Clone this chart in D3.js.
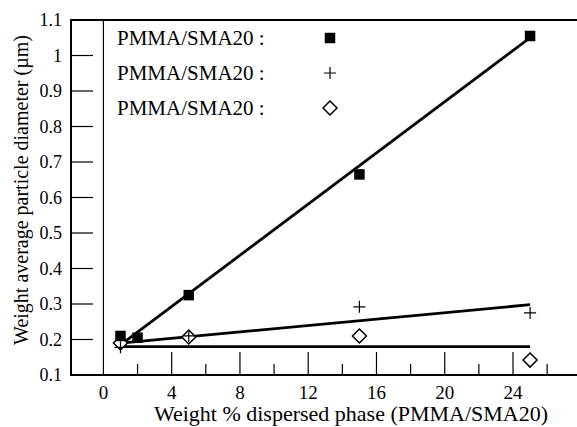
<!DOCTYPE html>
<html>
<head>
<meta charset="utf-8">
<script src="https://cdn.jsdelivr.net/npm/d3@7.9.0/dist/d3.min.js"></script>
<style>
  body { margin: 0; background: #fff; }
  text { font-family: "Liberation Serif", "Times New Roman", Times, "DejaVu Serif", serif; }
</style>
</head>
<body>
<div id="chart"></div>
<script>
// values
const squareX = [1, 2, 5, 15, 25];
const squareY = [0.21, 0.205, 0.325, 0.665, 1.055];
const plusX = [1, 5, 15, 25];
const plusY = [0.178, 0.21, 0.292, 0.275];
const diamondX = [1, 5, 15, 25];
const diamondY = [0.19, 0.207, 0.21, 0.142];

// fitted lines (end points as drawn)
const fitSquare = [[1, 0.185], [25, 1.05]];
const fitPlus = [[1, 0.19], [25, 0.298]];
const fitDiamond = [[1, 0.18], [25, 0.18]];

const legendLabels = ['PMMA/SMA20 :', 'PMMA/SMA20 :', 'PMMA/SMA20 :'];
const yTicks = [0.1, 0.2, 0.3, 0.4, 0.5, 0.6, 0.7, 0.8, 0.9, 1, 1.1];
const xMajor = [4, 8, 12, 16, 20, 24];
const xMinor = [2, 6, 10, 14, 18, 22, 26];
const xLabels = [0, 4, 8, 12, 16, 20, 24];

const W = 577, H = 427;
const L = 71, R = 577, T = 20, B = 375;
const FONT = '"Liberation Serif", "Times New Roman", Times, "DejaVu Serif", serif';

const x = d3.scaleLinear().domain([-1.9, 27.75]).range([L, R]);
const y = d3.scaleLinear().domain([0.1, 1.1]).range([B, T]);

const svg = d3.select('#chart').append('svg').attr('width', W).attr('height', H)
  .attr('font-family', FONT);

// frame: top, left, bottom
svg.append('path')
  .attr('d', `M${R},${T}H${L}V${B}H${R}`)
  .attr('fill', 'none').attr('stroke', '#000').attr('stroke-width', 2);

// vertical line at x = 0
svg.append('line')
  .attr('x1', x(0)).attr('x2', x(0)).attr('y1', T).attr('y2', B)
  .attr('stroke', '#000').attr('stroke-width', 1.2);

// y ticks (inward) and labels
svg.append('g').selectAll('line').data(yTicks.filter(v => v > 0.1 && v < 1.1)).join('line')
  .attr('x1', L).attr('x2', L + 22).attr('y1', d => y(d)).attr('y2', d => y(d))
  .attr('stroke', '#000').attr('stroke-width', 1.2);
svg.append('g').selectAll('text').data(yTicks).join('text')
  .attr('x', 62).attr('y', d => y(d) + 6)
  .attr('text-anchor', 'end').attr('font-size', 18)
  .text(d => d);

// x ticks (inward)
svg.append('g').selectAll('line').data(xMajor).join('line')
  .attr('x1', d => x(d)).attr('x2', d => x(d)).attr('y1', B).attr('y2', B - 23)
  .attr('stroke', '#000').attr('stroke-width', 1.2);
svg.append('g').selectAll('line').data(xMinor).join('line')
  .attr('x1', d => x(d)).attr('x2', d => x(d)).attr('y1', B).attr('y2', B - 11)
  .attr('stroke', '#000').attr('stroke-width', 1.2);
svg.append('g').selectAll('text').data(xLabels).join('text')
  .attr('x', d => x(d)).attr('y', 399)
  .attr('text-anchor', 'middle').attr('font-size', 19)
  .text(d => d);

// axis titles
svg.append('text')
  .attr('x', 351).attr('y', 421).attr('text-anchor', 'middle').attr('font-size', 22)
  .text('Weight % dispersed phase (PMMA/SMA20)');
svg.append('text')
  .attr('transform', `translate(28,190) rotate(-90)`)
  .attr('text-anchor', 'middle').attr('font-size', 20)
  .text('Weight average particle diameter (\u00b5m)');

// fitted lines
const line = d3.line().x(d => x(d[0])).y(d => y(d[1]));
[fitSquare, fitPlus, fitDiamond].forEach(f => {
  svg.append('path').attr('d', line(f))
    .attr('fill', 'none').attr('stroke', '#000').attr('stroke-width', 2.8);
});

// markers
const sq = d3.symbol().type(d3.symbolSquare).size(110);
const dm = (cx, cy, r) => `M${cx},${cy - r}L${cx + r},${cy}L${cx},${cy + r}L${cx - r},${cy}Z`;
const pl = (cx, cy, r) => `M${cx - r},${cy}H${cx + r}M${cx},${cy - r}V${cy + r}`;

const zip = (xs, ys) => xs.map((v, i) => [v, ys[i]]);

svg.append('g').selectAll('path').data(zip(diamondX, diamondY)).join('path')
  .attr('d', d => dm(x(d[0]), y(d[1]), 7))
  .attr('fill', '#fff').attr('stroke', '#000').attr('stroke-width', 1.5);
svg.append('g').selectAll('path').data(zip(plusX, plusY)).join('path')
  .attr('d', d => pl(x(d[0]), y(d[1]), 6))
  .attr('fill', 'none').attr('stroke', '#000').attr('stroke-width', 1.2);
svg.append('g').selectAll('path').data(zip(squareX, squareY)).join('path')
  .attr('transform', d => `translate(${x(d[0])},${y(d[1])})`)
  .attr('d', sq).attr('fill', '#000');

// legend
const legY = [38, 73, 108];
svg.append('g').selectAll('text').data(legendLabels).join('text')
  .attr('x', 117).attr('y', (d, i) => legY[i] + 7)
  .attr('font-size', 21).text(d => d);
svg.append('path').attr('transform', `translate(330,${legY[0]})`).attr('d', sq).attr('fill', '#000');
svg.append('path').attr('d', pl(330, legY[1], 6)).attr('stroke', '#000').attr('stroke-width', 1.2);
svg.append('path').attr('d', dm(330, legY[2], 7)).attr('fill', '#fff').attr('stroke', '#000').attr('stroke-width', 1.5);
</script>
</body>
</html>
